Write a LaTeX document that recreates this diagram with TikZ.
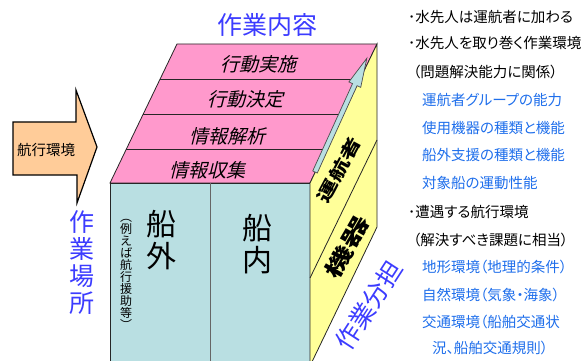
\documentclass[tikz,border=0pt]{standalone}
\usepackage{fontspec}
\usepackage{tikz}
\newfontfamily\jp[RawFeature=+palt]{Noto Sans CJK JP}
\newfontfamily\jpsl[FakeSlant=0.25]{Noto Sans CJK JP}
\definecolor{pinkface}{HTML}{FF99CC}
\definecolor{frontface}{HTML}{B9DFE2}
\definecolor{sideface}{HTML}{FFFF99}
\definecolor{peach}{HTML}{FFCC99}
\definecolor{titleblue}{HTML}{3C3CFF}
\definecolor{listblue}{HTML}{1E6EEB}

\begin{document}
\begin{tikzpicture}[x=1pt, y=-1pt,
	face/.style = {draw=black!85, line width=0.8pt},
	title/.style = {text=titleblue, inner sep=0pt, font=\jp\fontsize{25}{27}\selectfont},
	task/.style = {inner sep=0pt, font=\jpsl\fontsize{19}{20}\selectfont},
	bigchar/.style = {inner sep=0pt, align=center, font=\jp\fontsize{30}{32}\selectfont},
	share/.style = {inner sep=0pt, font=\jp\bfseries\fontsize{17}{18}\selectfont},
	item/.style = {anchor=west, inner sep=0pt, font=\jp\fontsize{14.5}{16}\selectfont},
	sub/.style = {item, text=listblue}]
	\useasboundingbox (0,0) rectangle (587,361);

	\filldraw[fill=peach, draw=black, line width=1.2pt] (13,122) -- (76,122) -- (76,90) -- (97,147) -- (77,203) -- (77,175) -- (13,175) -- cycle;
	\node[inner sep=0pt, font=\jp\fontsize{14.5}{16}\selectfont] (env) at (46,150) {航行環境};

	\filldraw[face, fill=pinkface] (177,44) -- (377,44) -- (310,183) -- (110,183) -- cycle;
	\draw[face] (160,79) -- (360,79);
	\draw[face] (143,114) -- (343,114);
	\draw[face] (126,149) -- (326,149);
	\filldraw[face, fill=frontface] (110,183) rectangle (310,366);
	\draw[face, draw=black!60] (210,183) -- (210,366);
	\filldraw[face, fill=sideface] (310,183) -- (377,44) -- (377,227) -- (310,366) -- cycle;
	\draw[face] (310,278) -- (377,140);
	\begin{scope}[shift={(315,172)}, rotate=65.5]
		\filldraw[fill=frontface, draw=black!70, line width=0.7pt] (0,2.5) -- (96,2.5) -- (96,6.5) -- (125,0) -- (96,-6.5) -- (96,-2.5) -- (0,-2.5) -- cycle;
	\end{scope}

	\node[task] (act) at (258,64) {行動実施};
	\node[task] (decide) at (245,99) {行動決定};
	\node[task] (analyse) at (227,136) {情報解析};
	\node[task] (collect) at (207,170) {情報収集};

	\node[bigchar] (outside) at (161,240) {船\\外};
	\node[bigchar] (inside) at (257,244) {船\\内};
	\node[inner sep=0pt, align=center, font=\jp\fontsize{12}{12}\selectfont] (example) at (126,274) {︵\\例\\え\\ば\\航\\行\\援\\助\\等\\︶};

	\node[share, rotate=62, xscale=1.4] (crew) at (339,170) {運航者};
	\node[share, rotate=60, xscale=1.6, font=\jp\bfseries\fontsize{21}{22}\selectfont] (equip) at (347,247) {機器};

	\node[title] (content) at (267,25) {作業内容};
	\node[title, align=center] (place) at (82,263) {作\\業\\場\\所};
	\node[title, rotate=57] (division) at (369,305) {作業分担};

	\node[item] (l1) at (408,16.7) {･水先人は運航者に加わる};
	\node[item] (l2) at (408,43.3) {･水先人を取り巻く作業環境};
	\node[item] (l3) at (413,71.7) {（問題解決能力に関係）};
	\node[sub] (l4) at (422,100) {運航者グループの能力};
	\node[sub] (l5) at (422,127.7) {使用機器の種類と機能};
	\node[sub] (l6) at (422,155) {船外支援の種類と機能};
	\node[sub] (l7) at (422,183) {対象船の運動性能};
	\node[item] (l8) at (408,211.7) {･遭遇する航行環境};
	\node[item] (l9) at (413,240) {（解決すべき課題に相当）};
	\node[sub] (l10) at (422,267.3) {地形環境（地理的条件）};
	\node[sub] (l11) at (422,295) {自然環境（気象・海象）};
	\node[sub] (l12) at (422,321.7) {交通環境（船舶交通状};
	\node[sub] (l13) at (432,348.3) {況、船舶交通規則）};
\end{tikzpicture}
\end{document}
